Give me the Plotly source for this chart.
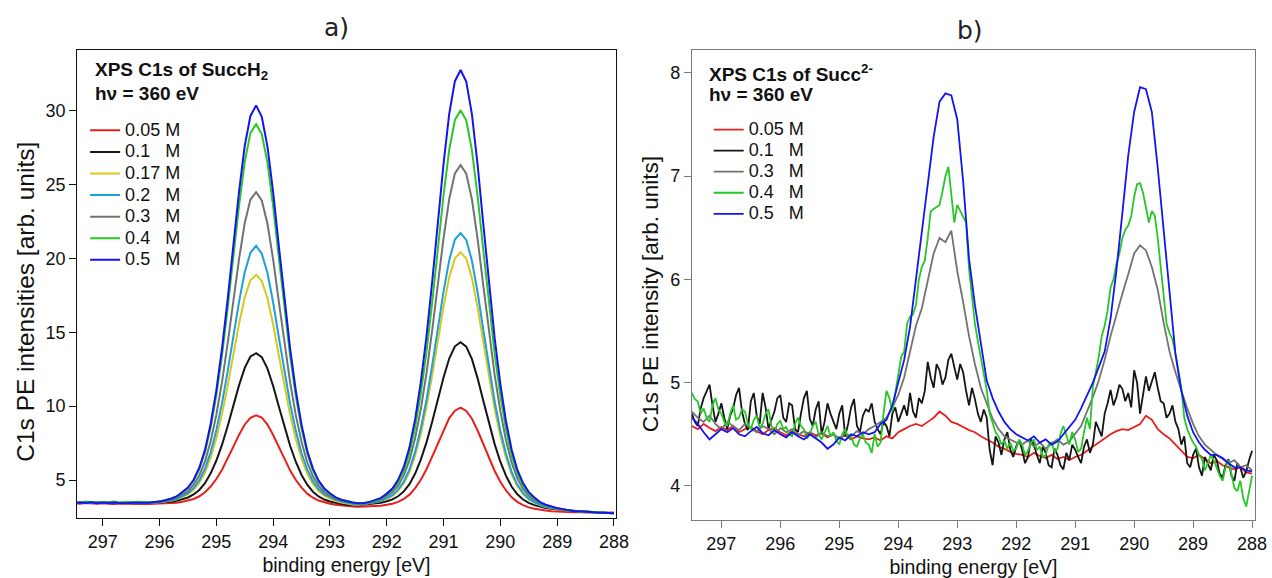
import plotly.graph_objects as go

# ---------------- data ----------------
energy = [round(297.5 - 0.1 * i, 1) for i in range(96)]        # 0.1 eV grid
energy_fine = [round(297.5 - 0.05 * j, 2) for j in range(191)]  # 0.05 eV grid (noisy spectra)

labels_a = ["0.05\u00a0M", "0.1\u00a0\u00a0\u00a0M", "0.17\u00a0M", "0.2\u00a0\u00a0\u00a0M",
            "0.3\u00a0\u00a0\u00a0M", "0.4\u00a0\u00a0\u00a0M", "0.5\u00a0\u00a0\u00a0M"]
labels_b = ["0.05\u00a0M", "0.1\u00a0\u00a0\u00a0M", "0.3\u00a0\u00a0\u00a0M",
            "0.4\u00a0\u00a0\u00a0M", "0.5\u00a0\u00a0\u00a0M"]

a_005 = [3.42,3.40,3.44,3.41,3.39,3.43,3.40,3.38,3.41,3.39,3.37,3.40,3.38,
         3.37,3.38,3.39,3.41,3.43,3.47,3.53,3.60,3.72,3.90,4.17,4.56,5.07,5.70,6.45,7.26,8.07,8.76,9.21,
         9.38,
         9.22,8.75,8.05,7.22,6.40,5.64,5.00,4.48,4.08,3.80,3.61,3.48,3.40,3.33,3.28,3.24,3.21,3.19,
         3.20,3.21,3.23,3.26,3.32,3.39,3.52,3.72,4.01,4.45,5.02,5.73,6.58,7.49,8.41,9.19,9.69,
         9.90,
         9.67,9.15,8.35,7.41,6.48,5.61,4.88,4.29,3.83,3.52,3.30,3.15,3.06,2.98,2.93,2.89,2.86,2.84,2.83,
         2.82,2.84,2.80,2.83,2.81,2.79,2.82,2.80]
a_01 = [3.47,3.45,3.50,3.44,3.46,3.49,3.43,3.46,3.44,3.47,3.42,3.45,3.44,
        3.44,3.46,3.47,3.49,3.53,3.59,3.70,3.82,4.02,4.33,4.79,5.45,6.32,7.39,8.66,10.04,11.42,12.59,13.36,
        13.58,
        13.32,12.54,11.36,9.97,8.58,7.30,6.22,5.34,4.68,4.21,3.89,3.68,3.55,3.44,3.37,3.33,3.30,3.28,
        3.35,3.37,3.40,3.46,3.56,3.69,3.90,4.23,4.72,5.44,6.38,7.55,8.94,10.44,11.94,13.22,14.05,
        14.32,
        14.03,13.18,11.88,10.36,8.84,7.43,6.24,5.28,4.54,4.03,3.68,3.45,3.30,3.18,3.10,3.05,3.01,2.97,2.93,
        2.91,2.88,2.86,2.84,2.80,2.79,2.77,2.76]
a_017 = [3.49,3.46,3.44,3.50,3.47,3.43,3.48,3.45,3.47,3.44,3.49,3.46,3.45,
         3.44,3.46,3.49,3.53,3.60,3.69,3.84,4.03,4.34,4.81,5.50,6.51,7.83,9.46,11.39,13.49,15.58,17.36,18.52,
         18.88,
         18.46,17.30,15.52,13.43,11.33,9.40,7.76,6.44,5.42,4.73,4.25,3.94,3.74,3.58,3.48,3.40,3.35,3.31,
         3.38,3.42,3.48,3.57,3.73,3.93,4.27,4.78,5.55,6.66,8.12,9.93,12.08,14.41,16.73,18.71,20.00,
         20.42,
         19.98,18.67,16.67,14.33,11.98,9.81,7.98,6.50,5.37,4.58,4.05,3.69,3.47,3.29,3.18,3.10,3.04,2.99,2.93,
         2.90,2.89,2.85,2.83,2.81,2.78,2.77,2.75]
a_02 = [3.46,3.50,3.47,3.44,3.48,3.51,3.45,3.47,3.43,3.48,3.46,3.44,3.47,
        3.44,3.46,3.50,3.55,3.62,3.72,3.90,4.11,4.45,4.98,5.76,6.89,8.37,10.20,12.37,14.72,17.07,19.07,20.38,
        20.85,
        20.32,19.01,17.01,14.66,12.31,10.14,8.31,6.83,5.70,4.92,4.39,4.05,3.84,3.66,3.55,3.46,3.40,3.35,
        3.38,3.43,3.49,3.59,3.77,3.98,4.35,4.89,5.72,6.92,8.49,10.43,12.75,15.25,17.75,19.88,21.27,
        21.72,
        21.25,19.84,17.69,15.17,12.65,10.31,8.35,6.76,5.54,4.69,4.13,3.74,3.51,3.31,3.19,3.11,3.04,3.00,2.93,
        2.92,2.87,2.86,2.82,2.82,2.78,2.76,2.76]
a_03 = [3.50,3.47,3.52,3.46,3.49,3.45,3.50,3.48,3.44,3.49,3.47,3.45,3.48,
        3.45,3.47,3.52,3.58,3.66,3.79,4.00,4.25,4.68,5.31,6.26,7.63,9.42,11.64,14.28,17.13,19.97,22.40,23.98,
        24.48,
        23.92,22.34,19.91,17.07,14.22,11.58,9.36,7.57,6.20,5.25,4.62,4.19,3.94,3.73,3.60,3.52,3.46,3.40,
        3.41,3.47,3.55,3.68,3.90,4.17,4.62,5.31,6.34,7.84,9.80,12.23,15.12,18.24,21.36,24.02,25.75,
        26.32,
        25.73,23.98,21.30,18.16,15.02,12.11,9.66,7.68,6.16,5.11,4.40,3.93,3.64,3.40,3.25,3.15,3.07,3.01,2.94,
        2.90,2.88,2.87,2.83,2.81,2.80,2.77,2.75]
a_04 = [3.52,3.48,3.55,3.50,3.46,3.53,3.49,3.54,3.47,3.51,3.48,3.53,3.50,
        3.49,3.50,3.55,3.63,3.73,3.88,4.14,4.45,4.96,5.73,6.89,8.56,10.74,13.44,16.66,20.13,23.59,26.55,28.48,
        29.08,
        28.41,26.48,23.52,20.06,16.59,13.37,10.67,8.49,6.82,5.66,4.89,4.38,4.07,3.81,3.66,3.56,3.48,3.43,
        3.42,3.50,3.59,3.74,4.00,4.32,4.84,5.64,6.84,8.58,10.86,13.67,17.02,20.65,24.27,27.35,29.36,
        30.02,
        29.34,27.31,24.21,20.57,16.92,13.55,10.72,8.42,6.66,5.44,4.62,4.08,3.74,3.46,3.29,3.18,3.08,3.02,2.93,
        2.91,2.86,2.88,2.82,2.80,2.81,2.76,2.74]
a_05 = [3.44,3.48,3.45,3.49,3.43,3.47,3.44,3.48,3.45,3.42,3.46,3.44,3.47,
        3.47,3.49,3.54,3.63,3.73,3.89,4.16,4.49,5.02,5.83,7.04,8.79,11.08,13.90,17.26,20.90,24.53,27.62,29.64,
        30.35,
        29.58,27.56,24.47,20.84,17.20,13.84,11.02,8.73,6.98,5.77,4.96,4.43,4.10,3.83,3.67,3.57,3.48,3.43,
        3.44,3.52,3.63,3.79,4.08,4.42,5.01,5.88,7.21,9.12,11.63,14.72,18.41,22.40,26.39,29.78,31.99,
        32.75,
        31.97,29.74,26.33,22.32,18.31,14.60,11.49,8.96,7.03,5.68,4.79,4.18,3.82,3.51,3.33,3.20,3.10,3.03,2.94,
        2.89,2.88,2.84,2.85,2.80,2.79,2.78,2.75]

# panel b, 0.1 eV grid
b_005 = [4.58,4.55,4.60,4.56,4.53,4.57,4.54,4.58,4.52,4.55,4.57,4.53,4.50,4.54,4.56,4.52,4.49,4.53,4.50,4.48,
         4.52,4.49,4.51,4.47,4.50,4.46,4.49,4.45,4.48,4.46,
         4.45,4.47,4.44,4.48,4.46,4.52,4.55,4.58,4.60,4.58,4.62,4.66,4.72,4.68,4.62,4.60,4.57,4.54,4.52,4.48,
         4.45,4.42,4.38,4.36,4.33,4.31,
         4.30,4.28,4.32,4.29,4.27,4.30,4.26,4.28,4.25,
         4.28,4.30,4.34,4.38,4.42,4.46,4.50,4.53,4.55,4.54,4.57,4.60,4.68,4.64,4.55,4.50,4.46,4.40,4.33,4.28,4.27,
         4.30,4.26,4.22,4.24,4.20,4.18,4.16,4.18,4.13,4.12]
b_03 = [4.72,4.66,4.62,4.68,4.60,4.55,4.62,4.58,4.54,4.60,4.56,4.52,4.58,4.55,4.50,4.56,4.52,4.55,4.49,4.53,
        4.50,4.47,4.52,4.48,4.50,4.46,4.51,4.48,4.53,4.50,
        4.55,4.58,4.62,4.66,4.76,4.88,5.05,5.30,5.55,5.72,6.00,6.25,6.40,6.36,6.47,6.08,5.78,5.45,5.18,4.95,
        4.80,4.65,4.55,4.48,4.45,4.42,
        4.40,4.44,4.38,4.42,4.36,4.41,4.45,4.40,4.43,
        4.50,4.58,4.72,4.86,5.02,5.22,5.45,5.66,5.86,6.05,6.25,6.33,6.28,6.12,5.90,5.58,5.30,5.10,4.92,4.75,4.60,
        4.48,4.40,4.35,4.30,4.26,4.22,4.25,4.18,4.20,4.15]
b_05 = [4.66,4.60,4.52,4.45,4.50,4.55,4.52,4.56,4.50,4.48,4.53,4.57,4.51,4.49,4.54,4.50,4.47,4.52,4.48,4.45,
        4.50,4.46,4.42,4.36,4.40,4.47,4.44,4.50,4.48,4.52,4.50,
        4.52,4.60,4.64,4.78,5.00,5.22,5.54,6.00,6.46,6.92,7.38,7.72,7.80,7.78,7.55,6.95,6.20,5.75,5.40,5.02,
        4.85,4.72,4.62,4.55,4.50,
        4.47,4.44,4.48,4.42,4.45,4.40,4.43,4.50,
        4.58,4.64,4.75,4.88,5.00,5.15,5.30,5.62,6.09,6.64,7.20,7.62,7.86,7.84,7.62,7.08,6.48,5.86,5.28,4.92,4.68,4.52,
        4.42,4.35,4.30,4.30,4.27,4.22,4.18,4.18,4.15,4.14]

# panel b, 0.05 eV grid (the noisy 0.1 M and 0.4 M spectra)
b_01 = [4.70,4.62,4.58,4.75,4.85,4.92,4.98,4.78,4.62,4.70,4.80,4.66,4.55,4.68,4.75,4.88,4.95,4.72,4.60,4.54,
        4.82,4.90,4.68,4.60,4.90,4.76,4.55,4.64,4.72,4.85,4.88,4.66,4.62,4.80,4.78,4.55,4.52,4.70,4.85,4.92,
        4.65,4.58,4.74,4.82,4.50,4.62,4.80,4.70,4.62,4.55,4.70,4.78,4.48,4.60,4.76,4.84,4.58,4.52,4.68,4.74,
        4.72,4.80,4.62,4.55,4.50,4.62,4.58,4.48,4.70,4.76,4.62,4.70,4.78,4.68,4.90,4.72,4.66,4.85,4.80,4.92,
        5.20,5.05,4.95,5.18,5.12,4.98,5.05,5.22,5.28,5.15,5.03,5.18,5.10,4.92,4.78,4.95,4.84,4.70,4.62,4.74,
        4.66,4.35,4.20,4.48,4.42,4.30,4.45,4.52,4.35,4.28,4.38,
        4.44,4.35,4.22,4.28,4.45,4.40,4.30,4.22,4.38,4.32,4.20,4.18,4.36,4.30,4.20,4.16,4.32,4.25,4.40,
        4.35,4.28,4.22,4.38,4.45,4.32,4.40,4.62,4.55,4.48,4.70,4.80,4.93,4.78,4.86,4.98,4.94,4.82,4.90,4.76,
        5.12,5.00,4.70,4.88,5.06,4.92,5.00,5.10,4.95,4.82,4.80,4.66,4.70,4.78,4.62,4.55,4.40,4.48,4.22,4.18,
        4.30,
        4.36,4.18,4.10,4.28,4.22,4.15,4.30,4.25,4.12,4.08,4.20,4.26,4.10,4.05,4.22,4.18,4.08,4.14,4.25,4.34]
b_04 = [4.90,4.84,4.82,4.70,4.75,4.66,4.62,4.78,4.85,4.74,4.70,4.62,4.58,4.70,4.78,4.64,4.66,4.74,4.72,4.60,
        4.55,4.64,4.68,4.56,4.60,4.70,4.74,4.58,4.52,4.60,4.63,4.55,4.57,4.50,4.48,4.60,4.66,4.58,4.55,4.46,
        4.50,4.58,4.62,4.50,4.45,4.52,4.58,4.48,4.52,4.44,4.40,4.50,4.55,4.46,4.48,4.40,4.38,4.46,4.50,4.42,
        4.40,4.32,4.50,4.38,4.42,4.70,4.92,4.85,4.72,4.90,5.08,5.25,5.30,5.57,5.64,5.66,5.75,6.00,6.12,6.18,
        6.40,6.66,6.68,6.70,6.72,6.85,7.00,7.09,6.80,6.55,6.72,6.66,6.60,6.55,6.10,5.85,5.57,5.40,5.25,5.10,
        4.93,4.70,4.60,4.52,4.48,4.40,4.44,4.36,4.42,4.34,4.36,
        4.45,4.40,4.30,4.34,4.42,4.45,4.35,4.38,4.28,4.30,4.40,4.42,4.33,4.36,4.50,4.58,4.48,4.40,4.52,
        4.45,4.33,4.36,4.52,4.66,4.55,4.96,5.10,5.25,5.45,5.55,5.70,5.92,6.00,6.15,6.25,6.40,6.48,6.52,6.61,
        6.80,6.92,6.93,6.84,6.70,6.55,6.66,6.62,6.40,6.12,5.85,5.57,5.48,5.42,5.28,5.10,4.95,4.66,4.55,4.48,
        4.42,
        4.38,4.30,4.26,4.15,4.22,4.30,4.25,4.18,4.10,4.05,4.18,4.25,4.12,3.98,3.95,4.05,3.88,3.80,3.95,4.10]

series_a = [a_005, a_01, a_017, a_02, a_03, a_04, a_05]
series_b = [(energy, b_005), (energy_fine, b_01), (energy, b_03), (energy_fine, b_04), (energy, b_05)]
colors_a = ["#e8201c", "#151515", "#d8c81c", "#1ca0da", "#727272", "#26c826", "#1414f2"]
colors_b = ["#e8201c", "#151515", "#727272", "#26c826", "#1414f2"]

xticks = [297, 296, 295, 294, 293, 292, 291, 290, 289, 288]
yticks_a = [5, 10, 15, 20, 25, 30]
yticks_b = [4, 5, 6, 7, 8]

# ---------------- figure ----------------
W, H = 1272, 578
FONT = "Liberation Sans, Arial, Helvetica, sans-serif"
fig = go.Figure()


def leg_label(s):
    return '<span style="font-size:18px">' + s + "</span>"


for vals, name, col in zip(series_a, labels_a, colors_a):
    fig.add_trace(go.Scatter(x=energy, y=vals, mode="lines", name=leg_label(name),
                             line=dict(color=col, width=2), xaxis="x", yaxis="y",
                             legend="legend"))
for (xs, vals), name, col in zip(series_b, labels_b, colors_b):
    fig.add_trace(go.Scatter(x=xs, y=vals, mode="lines", name=leg_label(name),
                             line=dict(color=col, width=1.8), xaxis="x2", yaxis="y2",
                             legend="legend2"))


def px_x(p):
    return p / W


def px_y(p):
    return 1 - p / H


common_x = dict(tickmode="array", tickvals=xticks, ticks="outside", ticklen=7,
                showline=True, mirror=True, showgrid=False, zeroline=False,
                tickfont=dict(size=18, color="#111", family=FONT),
                title=dict(text="binding energy [eV]", font=dict(size=19.5, color="#111", family=FONT),
                           standoff=7))
common_y = dict(tickmode="array", ticks="outside", ticklen=7,
                showline=True, mirror=True, showgrid=False, zeroline=False,
                tickfont=dict(size=18, color="#111", family=FONT))

fig.update_layout(
    width=W, height=H, margin=dict(l=0, r=0, t=0, b=0),
    paper_bgcolor="white", plot_bgcolor="white",
    font=dict(family=FONT, color="#111"),
    xaxis=dict(domain=[px_x(78), px_x(622)], range=[297.45, 287.97], anchor="y",
               linecolor="#111", tickcolor="#111", linewidth=1.2, **common_x),
    yaxis=dict(domain=[px_y(518), px_y(50)], range=[2.43, 34.1], anchor="x",
               tickvals=yticks_a, linecolor="#111", tickcolor="#111", linewidth=1.2,
               **common_y),
    xaxis2=dict(domain=[px_x(699), px_x(1268)], range=[297.5, 287.95], anchor="y2",
                linecolor="#7a7a7a", tickcolor="#7a7a7a", linewidth=1.2, **common_x),
    yaxis2=dict(domain=[px_y(520), px_y(50)], range=[3.67, 8.22], anchor="x2",
                tickvals=yticks_b, linecolor="#7a7a7a", tickcolor="#7a7a7a", linewidth=1.2,
                **common_y),
    legend=dict(x=px_x(86), y=px_y(114.5), xanchor="left", yanchor="top",
                bgcolor="rgba(0,0,0,0)", font=dict(size=14.3, family=FONT, color="#111"),
                itemwidth=30, tracegroupgap=0),
    legend2=dict(x=px_x(716), y=px_y(114), xanchor="left", yanchor="top",
                 bgcolor="rgba(0,0,0,0)", font=dict(size=13.9, family=FONT, color="#111"),
                 itemwidth=30, tracegroupgap=0),
    showlegend=True,
)

ann = [
    dict(text="a)", x=px_x(340), y=px_y(28), font=dict(size=25, family="DejaVu Sans", color="#222")),
    dict(text="b)", x=px_x(980), y=px_y(30), font=dict(size=25, family="DejaVu Sans", color="#222")),
    dict(text="<b>XPS C1s of SuccH<sub>2</sub></b>", x=px_x(94), y=px_y(71), xanchor="left",
         font=dict(size=19, family=FONT, color="#111")),
    dict(text="<b>h\u03bd = 360 eV</b>", x=px_x(94), y=px_y(93), xanchor="left",
         font=dict(size=19, family=FONT, color="#111")),
    dict(text="<b>XPS C1s of Succ<sup>2-</sup></b>", x=px_x(714), y=px_y(73), xanchor="left",
         font=dict(size=19, family=FONT, color="#111")),
    dict(text="<b>h\u03bd = 360 eV</b>", x=px_x(714), y=px_y(94), xanchor="left",
         font=dict(size=19, family=FONT, color="#111")),
    dict(text="C1s PE intensities [arb. units]", x=px_x(25), y=px_y(302), textangle=-90,
         font=dict(size=24.5, family=FONT, color="#111")),
    dict(text="C1s PE intensity [arb. units]", x=px_x(657), y=px_y(294), textangle=-90,
         font=dict(size=22.5, family=FONT, color="#111")),
]
for a in ann:
    a.setdefault("xanchor", "center")
    fig.add_annotation(xref="paper", yref="paper", yanchor="middle", showarrow=False, **a)

fig.write_html(
    "out.html",
    config={"displayModeBar": False},
    post_script="document.body.style.margin='0px';document.body.style.overflow='hidden';",
)
